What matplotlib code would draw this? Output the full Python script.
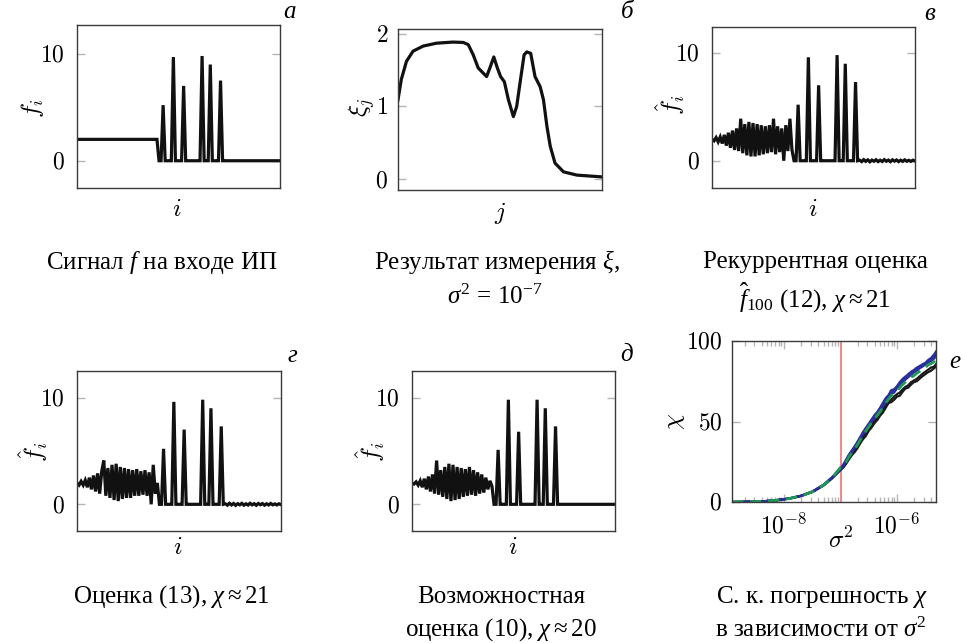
import matplotlib

matplotlib.use("Agg")
import matplotlib.pyplot as plt
import numpy as np
from matplotlib.ticker import LogLocator, NullFormatter

plt.rcParams["font.family"] = ["Liberation Serif", "DejaVu Serif"]
plt.rcParams["mathtext.fontset"] = "cm"
plt.rcParams["mathtext.rm"] = "Liberation Serif"
plt.rcParams["mathtext.it"] = "Liberation Serif:italic"
plt.rcParams["mathtext.bf"] = "Liberation Serif:bold"

W, H = 965, 643

# --- data -------------------------------------------------------------------
idx = np.arange(1, 101)

# input signal f
f_true = [2.0] * 40 + [
    0.0, 0.0, 5.2, 0.0, 0.0, 0.0, 0.0, 9.7, 0.0, 0.0,
    0.0, 0.0, 7.0, 0.0, 0.0, 0.0, 0.0, 0.0, 0.0, 0.0,
    0.0, 9.8, 0.0, 0.0, 0.0, 9.0, 0.0, 0.0, 0.0, 0.0,
    7.5, 0.0,
] + [0.0] * 28

# measurement result xi (j, value)
xi_j = [1, 2.6, 5.1, 8.3, 13.2, 19.7, 27.7, 32.7, 35.1, 37.5, 39.9, 41.6,
        44.0, 45.6, 47.5, 49.2, 50.8, 52.6, 54.6, 57.0, 58.6, 60.2, 62.2,
        63.5, 65.4, 67.5, 70.0, 71.6, 73.3, 74.9, 77.2, 81.3, 87.8, 100]
xi_val = [1.09, 1.37, 1.62, 1.76, 1.83, 1.87, 1.885, 1.88, 1.85, 1.71, 1.53,
          1.48, 1.41, 1.53, 1.68, 1.53, 1.41, 1.34, 1.09, 0.86, 1.00, 1.32,
          1.71, 1.75, 1.73, 1.41, 1.27, 1.09, 0.72, 0.45, 0.22, 0.10, 0.055,
          0.03]

spikes_est = [
    0.0, 0.0, 5.2, 0.0, 0.0, 0.0, 0.0, 9.6, 0.0, 0.0,
    0.0, 0.0, 7.0, 0.0, 0.0, 0.0, 0.0, 0.0, 0.0, 0.0,
    0.0, 9.8, 0.0, 0.0, 0.0, 9.0, 0.0, 0.0, 0.0, 0.0,
    7.3, 0.0,
]
ripple_tail = [
    0.05, -0.08, 0.10, -0.06, 0.08, -0.10, 0.06, -0.05, 0.09, -0.08,
    0.05, -0.07, 0.10, -0.05, 0.06, -0.09, 0.08, -0.04, 0.07, -0.08,
    0.05, -0.06, 0.08, -0.05, 0.04, -0.06, 0.05, -0.03,
]

# recurrent estimate f_100 (12)
f_rec = [
    2.0, 1.85, 2.15, 1.75, 2.2, 1.6, 2.4, 1.4, 2.6, 1.2,
    2.8, 1.0, 3.0, 0.9, 3.9, 0.7, 3.4, 0.5, 3.6, 0.4,
    3.5, 0.4, 3.4, 0.5, 3.3, 0.6, 3.2, 0.7, 3.3, 0.8,
    3.9, 0.6, 3.2, 0.8, 3.0, 0.0, 3.3, 0.9, 3.9, 1.0,
] + spikes_est + ripple_tail

# estimate (13)
f_est13 = [
    2.0, 1.8, 2.15, 1.8, 2.25, 1.6, 2.5, 1.4, 2.7, 1.2,
    2.9, 1.0, 3.1, 4.1, 0.8, 3.4, 0.6, 3.7, 0.4, 3.8,
    0.3, 3.5, 0.5, 3.4, 0.6, 3.3, 0.6, 3.2, 0.8, 3.3,
    0.8, 3.1, 0.9, 3.2, 0.8, 3.0, 0.0, 3.7, 1.0, 2.0,
] + spikes_est + ripple_tail

# possibilistic estimate (10)
f_poss = [
    2.0, 1.9, 2.1, 1.8, 2.2, 1.6, 2.4, 1.4, 2.6, 1.2,
    2.8, 1.0, 4.1, 0.9, 3.2, 0.7, 3.5, 0.5, 3.8, 0.3,
    3.7, 0.4, 3.5, 0.5, 3.4, 0.7, 3.3, 0.8, 3.5, 0.9,
    3.2, 0.8, 3.0, 1.0, 2.8, 1.1, 2.5, 1.4, 2.2, 1.7,
] + [
    0.0, 0.0, 5.1, 0.0, 0.0, 0.0, 0.0, 9.8, 0.0, 0.0,
    0.0, 0.0, 6.8, 0.0, 0.0, 0.0, 0.0, 0.0, 0.0, 0.0,
    0.0, 9.8, 0.0, 0.0, 0.0, 9.0, 0.0, 0.0, 0.0, 0.0,
    7.3, 0.0,
] + [0.0] * 28

# RMS error chi vs noise variance sigma^2
sigma2 = [1.2e-9, 2.0e-9, 3.2e-9, 5.0e-9, 7.9e-9, 1.26e-8, 2.0e-8, 3.2e-8,
          5.0e-8, 7.1e-8, 8.5e-8, 1.0e-7, 1.13e-7, 1.26e-7, 1.41e-7, 1.58e-7,
          1.78e-7, 2.0e-7, 2.24e-7, 2.5e-7, 2.8e-7, 3.2e-7, 3.5e-7, 4.0e-7,
          4.5e-7, 5.0e-7, 5.6e-7, 6.3e-7, 7.1e-7, 7.9e-7, 8.9e-7, 1.0e-6,
          1.12e-6, 1.26e-6, 1.41e-6, 1.58e-6, 1.78e-6, 2.0e-6, 2.24e-6,
          2.5e-6, 2.8e-6, 3.2e-6, 3.5e-6, 4.0e-6, 4.5e-6, 4.9e-6]
chi_black = [
    [0.0, 0.1, 0.3, 0.6, 1.2, 2.1, 3.7, 6.2, 10.2, 14.6, 17.4, 19.8, 21.5,
     23.8, 26.5, 29.0, 31.0, 33.5, 36.5, 39.0, 41.0, 44.5, 46.0, 49.0, 51.0,
     53.5, 55.5, 58.5, 61.5, 62.0, 63.5, 65.5, 66.0, 68.5, 70.5, 71.0, 73.0,
     74.5, 75.0, 76.5, 78.0, 79.5, 80.5, 81.5, 83.0, 84.0],
    [0.0, 0.1, 0.3, 0.6, 1.2, 2.2, 3.8, 6.3, 10.4, 15.0, 17.8, 20.2, 22.0,
     24.5, 27.0, 29.5, 32.5, 34.5, 37.0, 40.5, 42.5, 45.5, 47.5, 50.5, 52.0,
     54.5, 57.0, 60.0, 62.0, 63.5, 65.5, 67.0, 68.0, 70.0, 71.5, 72.5, 74.5,
     75.5, 76.5, 78.0, 79.5, 81.0, 82.0, 83.5, 84.0, 85.5],
]
chi_blue = [
    [0.0, 0.1, 0.3, 0.6, 1.3, 2.3, 3.9, 6.6, 10.8, 15.4, 18.0, 20.8, 23.5,
     26.5, 29.5, 32.0, 34.5, 37.5, 40.5, 43.5, 46.0, 49.0, 51.0, 54.0, 56.0,
     58.5, 61.5, 64.5, 66.5, 69.5, 70.0, 72.0, 74.5, 76.5, 78.0, 79.0, 81.0,
     82.0, 83.5, 84.0, 85.5, 86.5, 88.0, 89.5, 91.5, 93.5],
    [0.0, 0.1, 0.3, 0.6, 1.3, 2.3, 3.9, 6.5, 10.6, 15.2, 18.4, 20.5, 23.0,
     26.0, 28.5, 31.5, 34.5, 37.0, 39.5, 42.5, 45.5, 48.0, 50.5, 53.0, 55.5,
     58.0, 60.5, 63.0, 65.5, 68.0, 69.5, 71.5, 73.5, 76.0, 77.0, 79.5, 80.5,
     81.5, 83.0, 84.5, 85.0, 86.0, 87.5, 88.5, 90.0, 92.0],
    [0.0, 0.1, 0.3, 0.6, 1.2, 2.2, 3.8, 6.4, 10.5, 15.1, 17.6, 20.4, 22.5,
     25.5, 28.5, 30.5, 33.5, 36.0, 39.0, 42.0, 44.0, 47.5, 49.5, 52.0, 54.5,
     57.0, 59.0, 62.0, 64.5, 67.0, 68.0, 70.5, 72.5, 74.5, 76.0, 77.5, 79.0,
     80.5, 81.5, 83.0, 84.0, 85.5, 86.5, 87.5, 89.0, 90.5],
]
chi_green = [0.0, 0.1, 0.3, 0.6, 1.2, 2.2, 3.8, 6.4, 10.5, 15.0, 18.5, 21.5,
             22.5, 25.0, 28.0, 30.5, 33.0, 35.5, 38.5, 41.5, 44.0, 47.0, 49.0,
             51.5, 54.0, 56.0, 58.5, 61.5, 64.0, 66.0, 67.5, 69.0, 71.0, 73.0,
             74.5, 76.0, 77.5, 78.5, 80.0, 81.0, 82.5, 83.5, 85.0, 86.0, 87.0,
             88.0]
sigma2_ref = 1e-7

# --- styling helpers ----------------------------------------------------------
SPINE = "#3a3a3a"
TICK = "#b5b5b5"


def px_axes(left, top, right, bottom):
    return fig.add_axes([left / W, 1 - bottom / H, (right - left) / W, (bottom - top) / H])


def style_axes(ax):
    for sp in ax.spines.values():
        sp.set_color(SPINE)
        sp.set_linewidth(1.0)
    ax.tick_params(axis="both", which="both", direction="in", color=TICK,
                   width=1.0, labelsize=17, pad=9)
    ax.tick_params(axis="y", right=True, length=6)
    ax.tick_params(axis="x", bottom=False, labelbottom=False)


def ptext(x, y, s, **kw):
    fig.text(x / W, 1 - y / H, s, ha="center", va="center", **kw)


def caption(x, y, s):
    ptext(x, y, s, fontsize=18, math_fontfamily="custom")


def letter(x, y, s):
    ptext(x, y, s, fontsize=18, style="italic")


def signal_panel(box, values, ylabel, ylab_xy, xlab_xy, ylim):
    ax = px_axes(*box)
    ax.plot(idx, values, color="#111111", lw=2.3, solid_joinstyle="miter")
    ax.set_xlim(1, 100)
    ax.set_ylim(*ylim)
    ax.set_yticks([0, 10], ["$0$", "$10$"])
    style_axes(ax)
    ptext(*ylab_xy, ylabel, fontsize=18, rotation=90)
    ptext(*xlab_xy, "$i$", fontsize=18)
    return ax


fig = plt.figure(figsize=(W / 100, H / 100), dpi=100)

# а: input signal
signal_panel((77, 25, 280, 188), f_true, "$f_i$", (33, 108), (177, 210), (-2.55, 12.7))
letter(290, 12, "а")
caption(162, 262, "Сигнал $f$ на входе ИП")

# б: measurement
ax = px_axes(398, 29, 602, 190)
ax.plot(xi_j, xi_val, color="#111111", lw=2.3)
ax.set_xlim(1, 100)
ax.set_ylim(-0.15, 2.065)
ax.set_yticks([0, 1, 2], ["$0$", "$1$", "$2$"])
style_axes(ax)
ax.tick_params(axis="y", pad=7)
ptext(362, 107, r"$\xi_j$", fontsize=18, rotation=90)
ptext(500, 213, "$j$", fontsize=18)
letter(627, 12, "б")
caption(497, 262, r"Результат измерения $\xi$,")
caption(495, 297, r"$\sigma^2\,=\,10^{-7}$")

# в: recurrent estimate
signal_panel((712, 27, 915, 188), f_rec, r"$\hat{f}_i$", (670, 105), (813, 210), (-2.53, 12.41))
letter(930, 14, "в")
caption(815, 262, "Рекуррентная оценка")
caption(815, 297, r"$\hat{f}_{100}$ (12), $\chi \approx 21$")

# г: estimate (13)
signal_panel((77, 371, 281, 531), f_est13, r"$\hat{f}_i$", (33, 452), (178, 548), (-2.5, 12.49))
letter(292, 356, "г")
caption(171, 597, r"Оценка (13), $\chi \approx 21$")

# д: possibilistic estimate (10)
signal_panel((412, 371, 615, 531), f_poss, r"$\hat{f}_i$", (370, 452), (513, 548), (-2.5, 12.49))
letter(627, 355, "д")
caption(501, 597, "Возможностная")
caption(501, 630, r"оценка (10), $\chi \approx 20$")

# е: error vs noise level
ax = px_axes(732, 341, 936, 502)
ax.axvline(sigma2_ref, color="#f07f7f", lw=1.3, zorder=1)
for ys in chi_black:
    ax.plot(sigma2, ys, color="#1a1a1a", lw=1.6)
for ys in chi_blue:
    ax.plot(sigma2, ys, color="#2b2f9a", lw=1.6)
ax.plot(sigma2, chi_green, color="#1f9a55", lw=2.0, ls=(0, (4, 2.5)))
ax.set_xscale("log")
ax.set_xlim(1.2e-9, 4.9e-6)
ax.set_ylim(0, 100)
ax.set_yticks([0, 50, 100], ["$0$", "$50$", "$100$"])
ax.set_xticks([1e-8, 1e-6], ["$10^{-8}$", "$10^{-6}$"])
ax.xaxis.set_minor_locator(LogLocator(base=10, subs=np.arange(2, 10)))
ax.xaxis.set_minor_formatter(NullFormatter())
for sp in ax.spines.values():
    sp.set_color(SPINE)
    sp.set_linewidth(1.0)
ax.tick_params(axis="both", which="both", direction="in", color=TICK,
               width=1.0, labelsize=17)
ax.tick_params(axis="y", right=True, length=6, pad=7)
ax.tick_params(axis="x", which="major", top=True, length=6, pad=8)
ax.tick_params(axis="x", which="minor", top=True, length=3.5)
ptext(676, 422, r"$\chi$", fontsize=18, rotation=90)
ptext(841, 540, r"$\sigma^2$", fontsize=18)
letter(955, 362, "е")
caption(822, 597, r"С. к. погрешность $\chi$")
caption(821, 630, r"в зависимости от $\sigma^2$")

fig.savefig("out.png", dpi=100)
